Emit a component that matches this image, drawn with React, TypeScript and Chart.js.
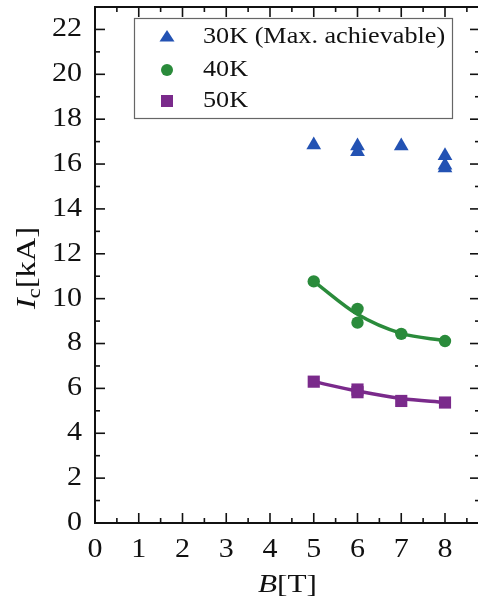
import React, { useEffect, useRef } from "react";
import { Chart, registerables } from "chart.js";
Chart.register(...registerables);

// ---- data ----
const k30B = [5, 6, 6, 7, 8, 8, 8];
const k30Ic = [16.85, 16.8, 16.55, 16.8, 16.37, 15.95, 15.82];
const k40B = [5, 6, 6, 7, 8];
const k40Ic = [10.77, 9.54, 8.93, 8.43, 8.11];
const k50B = [5, 6, 6, 7, 8];
const k50Ic = [6.3, 5.95, 5.83, 5.44, 5.37];
const fitB = [5, 6, 7, 8];
const fit40 = [10.77, 9.3, 8.45, 8.13];
const fit50 = [6.3, 5.88, 5.55, 5.38];
const xMajorTicks = [0, 1, 2, 3, 4, 5, 6, 7, 8];
const xMinorTicks = [0.5, 1.5, 2.5, 3.5, 4.5, 5.5, 6.5, 7.5, 8.5];
const yMajorTicks = [0, 2, 4, 6, 8, 10, 12, 14, 16, 18, 20, 22];
const yMinorTicks = [1, 3, 5, 7, 9, 11, 13, 15, 17, 19, 21];
const legendLabels = ["30K (Max. achievable)", "40K", "50K"];

const BLUE = "#2352b3";
const GREEN = "#2a8b3b";
const PURPLE = "#7a2a8b";
const CANDIDATES = ["Liberation Serif", "Tinos", "Times New Roman", "Nimbus Roman", "FreeSerif", "Noto Serif", "DejaVu Serif Condensed", "DejaVu Serif"];

let FAMILY = "serif";
function pickFamily() {
  const c = document.createElement("canvas").getContext("2d")!;
  const probe = "30K (Max. achievable) 0123456789 BkAT";
  for (const f of CANDIDATES) {
    for (const fb of ["monospace", "sans-serif"]) {
      c.font = `40px ${fb}`;
      const w0 = c.measureText(probe).width;
      c.font = `40px "${f}", ${fb}`;
      const w1 = c.measureText(probe).width;
      if (Math.abs(w1 - w0) > 0.5) return `"${f}", serif`;
    }
  }
  return "serif";
}

type Part = { text: string; italic?: boolean; rel?: number; dy?: number };

// size for a given cap/digit height target
function sizeFor(ctx: CanvasRenderingContext2D, glyph: string, height: number, italic = false) {
  ctx.font = `${italic ? "italic " : ""}100px ${FAMILY}`;
  const m = ctx.measureText(glyph);
  const a = m.actualBoundingBoxAscent || 70;
  return (height / a) * 100;
}

function drawParts(
  ctx: CanvasRenderingContext2D,
  parts: Part[],
  x: number,
  y: number,
  size: number,
  opts: { align?: "left" | "center" | "right"; baseline?: CanvasTextBaseline; rotate?: number; targetWidth?: number; scale?: number }
) {
  const fonts = parts.map((p) => `${p.italic ? "italic " : ""}${(size * (p.rel ?? 1)).toFixed(2)}px ${FAMILY}`);
  let total = 0;
  const widths = parts.map((p, i) => {
    ctx.font = fonts[i];
    const w = ctx.measureText(p.text).width;
    total += w;
    return w;
  });
  const s = opts.targetWidth ? opts.targetWidth / total : opts.scale ?? 1;
  ctx.save();
  ctx.translate(x, y);
  if (opts.rotate) ctx.rotate(opts.rotate);
  ctx.scale(s, 1);
  ctx.fillStyle = "#111";
  ctx.textAlign = "left";
  ctx.textBaseline = opts.baseline ?? "alphabetic";
  let start = 0;
  if (opts.align === "center") start = -total / 2;
  if (opts.align === "right") start = -total;
  parts.forEach((p, i) => {
    ctx.font = fonts[i];
    ctx.fillText(p.text, start, p.dy ?? 0);
    start += widths[i];
  });
  ctx.restore();
  return s;
}

function marker(ctx: CanvasRenderingContext2D, style: string, x: number, y: number, color: string) {
  ctx.save();
  ctx.fillStyle = color;
  ctx.beginPath();
  if (style === "triangle") {
    ctx.moveTo(x, y - 7);
    ctx.lineTo(x + 7.5, y + 4.5);
    ctx.lineTo(x - 7.5, y + 4.5);
    ctx.closePath();
  } else if (style === "circle") {
    ctx.arc(x, y, 6, 0, Math.PI * 2);
  } else {
    ctx.rect(x - 6, y - 6, 12, 12);
  }
  ctx.fill();
  ctx.restore();
}

const framePlugin = {
  id: "frame",
  afterDatasetsDraw(chart: any) {
    const ctx: CanvasRenderingContext2D = chart.ctx;
    const { left, right, top, bottom } = chart.chartArea;
    const xs = chart.scales.x;
    const ys = chart.scales.y;
    ctx.save();
    ctx.strokeStyle = "#111";
    ctx.lineWidth = 2;
    ctx.strokeRect(left, top, right - left, bottom - top);
    ctx.lineWidth = 1.6;
    const tick = (x1: number, y1: number, x2: number, y2: number) => {
      ctx.beginPath();
      ctx.moveTo(x1, y1);
      ctx.lineTo(x2, y2);
      ctx.stroke();
    };
    xMajorTicks.forEach((v) => {
      const p = xs.getPixelForValue(v);
      tick(p, bottom, p, bottom - 10);
      tick(p, top, p, top + 10);
    });
    xMinorTicks.forEach((v) => {
      const p = xs.getPixelForValue(v);
      tick(p, bottom, p, bottom - 5);
      tick(p, top, p, top + 5);
    });
    yMajorTicks.forEach((v) => {
      const p = ys.getPixelForValue(v);
      tick(left, p, left + 10, p);
      tick(right, p, right - 10, p);
    });
    yMinorTicks.forEach((v) => {
      const p = ys.getPixelForValue(v);
      tick(left, p, left + 5, p);
      tick(right, p, right - 5, p);
    });
    ctx.restore();

    // tick labels: digit height ~17.5px, "22" ~30px wide
    const tSize = sizeFor(ctx, "0", 17.5);
    ctx.font = `${tSize}px ${FAMILY}`;
    const tScale = 30 / ctx.measureText("22").width;
    xMajorTicks.forEach((v) => {
      drawParts(ctx, [{ text: String(v) }], xs.getPixelForValue(v), 550, tSize, { align: "center", baseline: "middle", scale: tScale });
    });
    yMajorTicks.forEach((v) => {
      drawParts(ctx, [{ text: String(v) }], 82, ys.getPixelForValue(v), tSize, { align: "right", baseline: "middle", scale: tScale });
    });

    // x title: B[T]
    const xtSize = sizeFor(ctx, "T", 17);
    drawParts(ctx, [{ text: "B", italic: true }, { text: "[T]" }], 258, 592, xtSize, { targetWidth: 59 });

    // y title: Ic[kA]
    const ytSize = sizeFor(ctx, "A", 18);
    drawParts(
      ctx,
      [{ text: "I", italic: true }, { text: "c", rel: 0.68, dy: 5 }, { text: "[kA]" }],
      35,
      309,
      ytSize,
      { rotate: -Math.PI / 2, targetWidth: 82 }
    );

    // legend
    ctx.save();
    ctx.fillStyle = "#fff";
    ctx.fillRect(134, 18, 318, 100);
    ctx.strokeStyle = "#666";
    ctx.lineWidth = 1.2;
    ctx.strokeRect(134.5, 18.5, 318, 100);
    ctx.restore();
    const rows = [37, 70, 101];
    const styles = ["triangle", "circle", "rect"];
    const colors = [BLUE, GREEN, PURPLE];
    const lSize = sizeFor(ctx, "K", 15.5);
    ctx.font = `${lSize}px ${FAMILY}`;
    const lScale = 242 / ctx.measureText(legendLabels[0]).width;
    legendLabels.forEach((lab, i) => {
      marker(ctx, styles[i], 167, rows[i], colors[i]);
      drawParts(ctx, [{ text: lab }], 203, rows[i], lSize, { baseline: "middle", scale: lScale });
    });
  },
};

export default function App() {
  const ref = useRef<HTMLCanvasElement | null>(null);
  useEffect(() => {
    if (!ref.current) return;
    let chart: any = null;
    let cancelled = false;
    const pts = (xs: number[], ys: number[]) => xs.map((x, i) => ({ x, y: ys[i] }));
    const build = () => {
      if (cancelled || !ref.current) return;
      FAMILY = pickFamily();
      chart = new Chart(ref.current, {
        type: "scatter",
        data: {
          datasets: [
            {
              label: legendLabels[0],
              data: pts(k30B, k30Ic),
              pointStyle: "triangle",
              pointRadius: 8.5,
              backgroundColor: BLUE,
              borderColor: BLUE,
              borderWidth: 0,
              order: 0,
            },
            {
              label: legendLabels[1],
              data: pts(k40B, k40Ic),
              pointStyle: "circle",
              pointRadius: 6.2,
              backgroundColor: GREEN,
              borderColor: GREEN,
              borderWidth: 0,
              order: 0,
            },
            {
              label: legendLabels[2],
              data: pts(k50B, k50Ic),
              pointStyle: "rect",
              pointRadius: 8.6,
              backgroundColor: PURPLE,
              borderColor: PURPLE,
              borderWidth: 0,
              order: 0,
            },
            {
              type: "line",
              label: "fit40",
              data: pts(fitB, fit40),
              showLine: true,
              pointRadius: 0,
              borderColor: GREEN,
              borderWidth: 3.5,
              cubicInterpolationMode: "monotone",
              fill: false,
              order: 1,
            } as any,
            {
              type: "line",
              label: "fit50",
              data: pts(fitB, fit50),
              showLine: true,
              pointRadius: 0,
              borderColor: PURPLE,
              borderWidth: 3.5,
              cubicInterpolationMode: "monotone",
              fill: false,
              order: 1,
            } as any,
          ],
        },
        options: {
          animation: false,
          responsive: false,
          devicePixelRatio: 1,
          layout: { autoPadding: false, padding: { top: 7, right: 0, left: 0, bottom: 0 } },
          plugins: { legend: { display: false }, tooltip: { enabled: false } },
          scales: {
            x: {
              type: "linear",
              min: 0,
              max: 8.8,
              ticks: { display: false },
              grid: { display: false },
              border: { display: false },
              afterFit: (s: any) => {
                s.height = 89;
                s.paddingLeft = 0;
                s.paddingRight = 0;
              },
            },
            y: {
              type: "linear",
              min: 0,
              max: 23,
              ticks: { display: false },
              grid: { display: false },
              border: { display: false },
              afterFit: (s: any) => {
                s.width = 95;
              },
            },
          },
        } as any,
        plugins: [framePlugin],
      });
    };
    const fontsApi: any = (document as any).fonts;
    if (fontsApi && fontsApi.load) {
      Promise.all(CANDIDATES.slice(0, 3).map((f) => fontsApi.load(`26px "${f}"`).catch(() => null))).then(build, build);
    } else {
      build();
    }
    return () => {
      cancelled = true;
      if (chart) chart.destroy();
    };
  }, []);
  return (
    <div style={{ position: "fixed", left: 0, top: 0, width: 478, height: 612, overflow: "hidden", background: "#fff" }}>
      <canvas ref={ref} width={480} height={612} style={{ display: "block" }} />
    </div>
  );
}
